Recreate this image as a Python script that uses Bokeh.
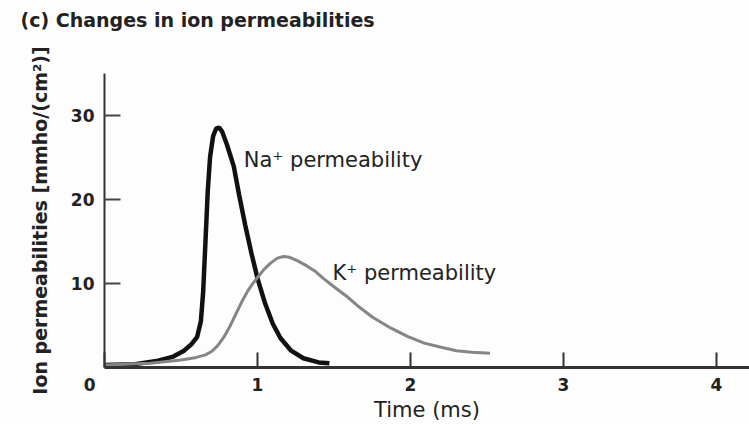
from bokeh.plotting import figure
from bokeh.models import Range1d, FixedTicker, Label
from bokeh.embed import file_html
from bokeh.resources import INLINE

# Data
na_t = [0, 0.2, 0.35, 0.45, 0.52, 0.57, 0.605, 0.63, 0.645, 0.66, 0.675, 0.69, 0.71, 0.73, 0.75, 0.77, 0.80, 0.845, 0.88, 0.92, 0.96, 1.0, 1.05, 1.10, 1.15, 1.22, 1.30, 1.40, 1.47]
na_v = [0.3, 0.4, 0.8, 1.3, 2.0, 2.8, 3.6, 5.5, 9, 15, 21, 25, 27.5, 28.4, 28.5, 28.0, 26.5, 23.9, 20.5, 16.9, 13.6, 10.6, 7.6, 5.2, 3.5, 2.0, 1.1, 0.6, 0.5]
k_t = [0, 0.3, 0.5, 0.6, 0.66, 0.70, 0.74, 0.78, 0.82, 0.86, 0.90, 0.94, 0.97, 1.0, 1.04, 1.085, 1.13, 1.17, 1.21, 1.26, 1.32, 1.38, 1.43, 1.5, 1.58, 1.65, 1.75, 1.87, 1.98, 2.09, 2.2, 2.3, 2.4, 2.52]
k_v = [0.3, 0.5, 0.9, 1.2, 1.5, 1.9, 2.6, 3.6, 4.9, 6.4, 7.9, 9.2, 10.0, 10.7, 11.6, 12.4, 13.0, 13.2, 13.1, 12.7, 12.1, 11.4, 10.6, 9.6, 8.5, 7.4, 6.0, 4.7, 3.7, 2.9, 2.4, 2.0, 1.8, 1.7]
x_ticks = [0, 1, 2, 3, 4]
y_ticks = [10, 20, 30]
title_text = "(c) Changes in ion permeabilities"

FONT = "DejaVu Sans"
TXT = "#222222"

p = figure(width=749, height=424, output_backend="svg", toolbar_location=None,
           x_range=Range1d(0, 4.216), y_range=Range1d(0, 34.94),
           min_border_left=104, min_border_right=0, min_border_top=73, min_border_bottom=54,
           title=title_text + "\n\u00a0")
p.outline_line_color = None
p.grid.visible = False
p.background_fill_color = "#fdfdfd"
p.border_fill_color = "#fdfdfd"

p.title.text_font = FONT
p.title.text_font_size = "19px"
p.title.text_font_style = "bold"
p.title.text_color = TXT
p.title.text_line_height = 1.7
p.title.offset = -84
p.title.vertical_align = "top"
p.title.standoff = 8

p.line(na_t, na_v, line_color="#111111", line_width=4.5)
p.line(k_t, k_v, line_color="#858585", line_width=3)

xa = p.xaxis[0]
xa.ticker = FixedTicker(ticks=x_ticks)
xa.major_label_overrides = {0: "0" + "\u00a0" * 5}
xa.minor_tick_line_color = None
xa.major_tick_in = 15
xa.major_tick_out = 0
xa.major_tick_line_width = 2
xa.major_tick_line_color = "#333333"
xa.axis_line_width = 3
xa.axis_line_color = "#333333"
xa.major_label_text_font = FONT
xa.major_label_text_font_size = "17px"
xa.major_label_text_font_style = "bold"
xa.major_label_text_color = TXT
xa.major_label_standoff = 7
xa.axis_label = "Time (ms)"
xa.axis_label_text_font = FONT
xa.axis_label_text_font_size = "21px"
xa.axis_label_text_font_style = "normal"
xa.axis_label_text_color = TXT
xa.axis_label_standoff = 0

ya = p.yaxis[0]
ya.ticker = FixedTicker(ticks=y_ticks)
ya.minor_tick_line_color = None
ya.major_tick_in = 16
ya.major_tick_out = 0
ya.major_tick_line_width = 2
ya.major_tick_line_color = "#444444"
ya.axis_line_width = 2
ya.axis_line_color = "#333333"
ya.major_label_text_font = FONT
ya.major_label_text_font_size = "17px"
ya.major_label_text_font_style = "bold"
ya.major_label_text_color = TXT
ya.major_label_standoff = 10
ya.major_label_orientation = "horizontal"
ya.axis_label = "Ion permeabilities [mmho/(cm\u00b2)]"
ya.axis_label_text_font = FONT
ya.axis_label_text_font_size = "19px"
ya.axis_label_text_font_style = "bold"
ya.axis_label_text_color = TXT
ya.axis_label_standoff = 17

p.add_layout(Label(x=0.91, y=24.7, text="Na\u207a permeability", text_font=FONT,
                   text_font_size="21px", text_color=TXT, text_align="left",
                   text_baseline="middle"))
p.add_layout(Label(x=1.49, y=11.2, text="K\u207a permeability", text_font=FONT,
                   text_font_size="21px", text_color=TXT, text_align="left",
                   text_baseline="middle"))

open("out.html", "w").write(file_html(p, INLINE))
